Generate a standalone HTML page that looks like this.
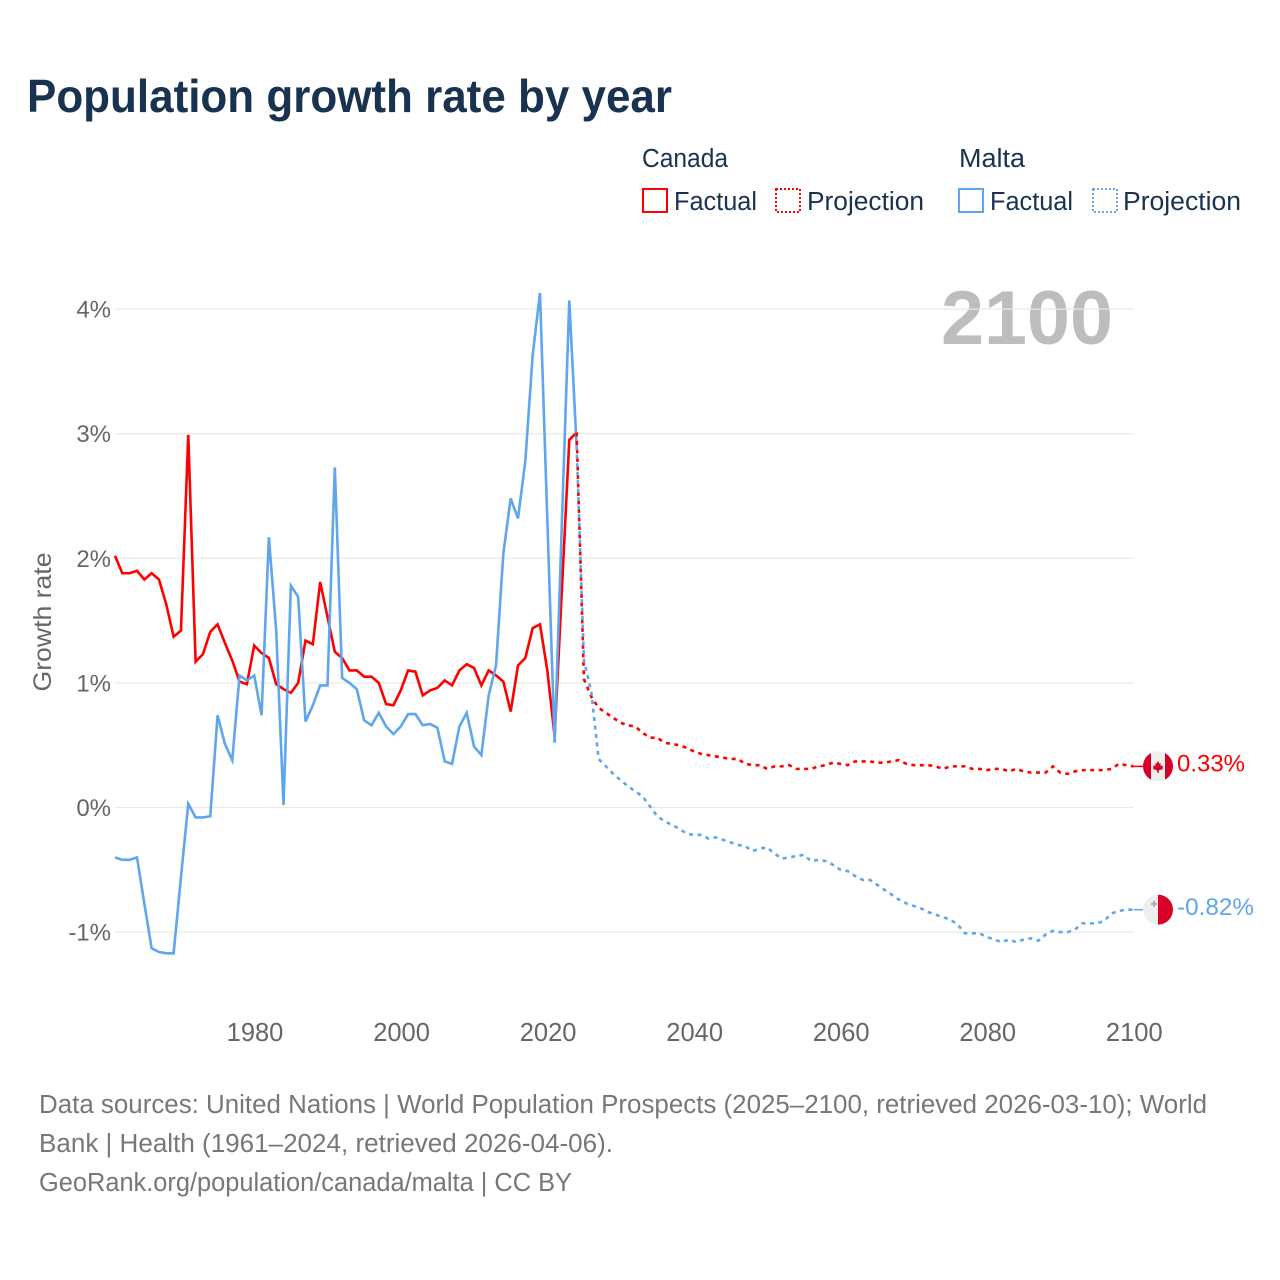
<!DOCTYPE html>
<html lang="en">
<head>
<meta charset="utf-8">
<title>Population growth rate by year</title>
<style>
html,body{margin:0;padding:0;background:#fff;width:1280px;height:1280px;overflow:hidden}
svg{display:block}
text{font-family:"Liberation Sans",sans-serif}
</style>
</head>
<body>
<svg id="chart" xmlns="http://www.w3.org/2000/svg" width="1280" height="1280" viewBox="0 0 1280 1280">
  <rect width="1280" height="1280" fill="#fff"/>
  <text x="27" y="112" font-size="46" font-weight="700" fill="#18324f" textLength="645" lengthAdjust="spacingAndGlyphs">Population growth rate by year</text>

  <g font-size="25.5" fill="#18324f">
    <text x="642" y="167" textLength="86" lengthAdjust="spacingAndGlyphs">Canada</text>
    <text x="959" y="167" textLength="66" lengthAdjust="spacingAndGlyphs">Malta</text>
    <rect x="643" y="189" width="24" height="23" fill="none" stroke="#ff0000" stroke-width="2"/>
    <text x="674" y="210" textLength="83" lengthAdjust="spacingAndGlyphs">Factual</text>
    <rect x="776" y="189" width="24" height="23" fill="none" stroke="#ff0000" stroke-width="2" stroke-dasharray="2 2"/>
    <text x="807" y="210" textLength="117" lengthAdjust="spacingAndGlyphs">Projection</text>
    <rect x="959" y="189" width="24" height="23" fill="none" stroke="#5fa6ec" stroke-width="2"/>
    <text x="990" y="210" textLength="83" lengthAdjust="spacingAndGlyphs">Factual</text>
    <rect x="1093" y="189" width="24" height="23" fill="none" stroke="#5fa6ec" stroke-width="2" stroke-dasharray="2 2"/>
    <text x="1123" y="210" textLength="118" lengthAdjust="spacingAndGlyphs">Projection</text>
  </g>

  <text x="1113" y="344" font-size="76" font-weight="700" fill="#bdbdbd" text-anchor="end" textLength="172" lengthAdjust="spacingAndGlyphs">2100</text>

  <g id="grid"></g>
  <g id="yticks"></g>
  <g id="xticks"></g>
  <text transform="translate(51,622) rotate(-90)" font-size="25" fill="#666" text-anchor="middle" textLength="139" lengthAdjust="spacingAndGlyphs">Growth rate</text>
  <g id="series"></g>

  <g id="flag-canada"></g>
  <g id="flag-malta"></g>

  <g font-size="25.5" fill="#777">
    <text x="39" y="1113" textLength="1168" lengthAdjust="spacingAndGlyphs">Data sources: United Nations | World Population Prospects (2025–2100, retrieved 2026-03-10); World</text>
    <text x="39" y="1152" textLength="574" lengthAdjust="spacingAndGlyphs">Bank | Health (1961–2024, retrieved 2026-04-06).</text>
    <text x="39" y="1191" textLength="533" lengthAdjust="spacingAndGlyphs">GeoRank.org/population/canada/malta | CC BY</text>
  </g>
</svg>
<script>
const yTickValues = [4, 3, 2, 1, 0, -1];
const xTickYears = [1980, 2000, 2020, 2040, 2060, 2080, 2100];
const factualStartYear = 1961;
const projectionStartYear = 2024;
const canadaFactual = [2.02,1.88,1.88,1.90,1.83,1.88,1.83,1.63,1.37,1.42,2.99,1.17,1.23,1.41,1.47,1.32,1.18,1.01,0.99,1.30,1.24,1.20,0.99,0.95,0.92,1.00,1.34,1.31,1.81,1.53,1.25,1.20,1.10,1.10,1.05,1.05,1.00,0.83,0.82,0.94,1.10,1.09,0.90,0.94,0.96,1.02,0.98,1.10,1.15,1.12,0.98,1.10,1.06,1.01,0.77,1.14,1.20,1.44,1.47,1.10,0.57,1.76,2.95,3.01];
const maltaFactual = [-0.40,-0.42,-0.42,-0.40,-0.77,-1.13,-1.16,-1.17,-1.17,-0.56,0.03,-0.08,-0.08,-0.07,0.74,0.51,0.38,1.06,1.02,1.06,0.74,2.17,1.42,0.02,1.78,1.69,0.69,0.82,0.98,0.98,2.73,1.04,1.00,0.95,0.70,0.66,0.76,0.65,0.59,0.65,0.75,0.75,0.66,0.67,0.64,0.37,0.35,0.65,0.76,0.49,0.42,0.90,1.14,2.04,2.48,2.32,2.78,3.63,4.13,2.31,0.52,2.31,4.07,2.90];
const canadaProjection = [3.01,1.03,0.89,0.80,0.76,0.72,0.68,0.66,0.65,0.60,0.56,0.56,0.52,0.51,0.50,0.48,0.45,0.43,0.42,0.41,0.40,0.39,0.39,0.35,0.34,0.34,0.31,0.33,0.33,0.34,0.31,0.31,0.31,0.33,0.34,0.36,0.35,0.34,0.37,0.37,0.37,0.36,0.36,0.37,0.38,0.35,0.34,0.34,0.34,0.33,0.31,0.33,0.33,0.33,0.31,0.31,0.30,0.31,0.31,0.29,0.31,0.29,0.28,0.28,0.28,0.33,0.28,0.27,0.29,0.30,0.30,0.30,0.30,0.31,0.35,0.34,0.33];
const maltaProjection = [2.90,1.18,0.93,0.39,0.33,0.27,0.22,0.17,0.13,0.09,0.01,-0.07,-0.11,-0.14,-0.17,-0.21,-0.22,-0.22,-0.25,-0.24,-0.26,-0.28,-0.30,-0.31,-0.35,-0.33,-0.32,-0.37,-0.41,-0.40,-0.39,-0.38,-0.43,-0.42,-0.43,-0.46,-0.50,-0.51,-0.55,-0.58,-0.58,-0.62,-0.66,-0.70,-0.74,-0.77,-0.79,-0.81,-0.84,-0.86,-0.88,-0.90,-0.94,-1.01,-1.01,-1.01,-1.04,-1.06,-1.08,-1.06,-1.08,-1.06,-1.05,-1.07,-1.02,-0.99,-1.00,-1.00,-0.98,-0.93,-0.93,-0.93,-0.91,-0.85,-0.83,-0.82,-0.82];

const NS = 'http://www.w3.org/2000/svg';
const RED = '#ff0000';
const BLUE = '#5fa6ec';
const FLAG_RED = '#d80027';
const FLAG_WHITE = '#eeeeee';

function xScale(year) { return 115 + (year - 1961) * (1018.5 / 139); }
function yScale(value) { return 807.5 - value * 124.6; }

function make(tag, attrs, parent) {
  const el = document.createElementNS(NS, tag);
  for (const k in attrs) el.setAttribute(k, attrs[k]);
  parent.appendChild(el);
  return el;
}

const grid = document.getElementById('grid');
const yticks = document.getElementById('yticks');
const xticks = document.getElementById('xticks');
const series = document.getElementById('series');

yTickValues.forEach(function (v) {
  const line = make('line', { x1: 115, x2: 1133.5, y1: yScale(v), y2: yScale(v), stroke: '#e8e8e8', 'stroke-width': 1.2 }, grid);
  
  
  const label = make('text', { x: 111, y: yScale(v) + 8.5, 'font-size': 24, fill: '#666', 'text-anchor': 'end' }, yticks);
  
  
  label.textContent = v + '%';
});

xTickYears.forEach(function (yr) {
  const label = make('text', { x: xScale(yr) + 0.8, y: 1041, 'font-size': 25.5, fill: '#666', 'text-anchor': 'middle' }, xticks);
  
  
  label.textContent = yr;
});

function linePath(values, startYear) {
  return values.map(function (v, i) {
    return (i ? 'L' : 'M') + xScale(startYear + i).toFixed(2) + ' ' + yScale(v).toFixed(2);
  }).join(' ');
}

function drawLine(values, startYear, color, dashed) {
  const attrs = { d: linePath(values, startYear), fill: 'none', stroke: color, 'stroke-width': 2.6, 'stroke-linejoin': 'miter' };
  if (dashed) attrs['stroke-dasharray'] = '4 4.5';
  return make('path', attrs, series);
}

const canadaFactualLine = drawLine(canadaFactual, factualStartYear, RED, false);


const maltaFactualLine = drawLine(maltaFactual, factualStartYear, BLUE, false);


const canadaProjectionLine = drawLine(canadaProjection, projectionStartYear, RED, true);


const maltaProjectionLine = drawLine(maltaProjection, projectionStartYear, BLUE, true);



const canadaLast = canadaProjection[canadaProjection.length - 1];
const maltaLast = maltaProjection[maltaProjection.length - 1];
const flagX = 1158;

function flagBase(group, v, id) {
  const cy = yScale(v);
  const defs = make('defs', {}, group);
  const clip = make('clipPath', { id: id }, defs);
  make('circle', { cx: flagX, cy: cy, r: 15 }, clip);
  const inner = make('g', { 'clip-path': 'url(#' + id + ')' }, group);
  return { inner: inner, cy: cy };
}

const canadaTail = make('line', { x1: xScale(2100), x2: flagX - 15, y1: yScale(canadaLast), y2: yScale(canadaLast), stroke: RED, 'stroke-width': 1.5 }, series);


const maltaTail = make('line', { x1: xScale(2100), x2: flagX - 15, y1: yScale(maltaLast), y2: yScale(maltaLast), stroke: BLUE, 'stroke-width': 1.5 }, series);



const ca = flagBase(document.getElementById('flag-canada'), canadaLast, 'clip-ca');
make('rect', { x: flagX - 15, y: ca.cy - 15, width: 30, height: 30, fill: FLAG_WHITE }, ca.inner);
make('rect', { x: flagX - 15, y: ca.cy - 15, width: 8, height: 30, fill: FLAG_RED }, ca.inner);
make('rect', { x: flagX + 7, y: ca.cy - 15, width: 8, height: 30, fill: FLAG_RED }, ca.inner);
make('polygon', {
  fill: FLAG_RED,
  transform: 'translate(' + flagX + ' ' + (ca.cy + 0.5) + ')',
  points: '0,-6 1.6,-3 3,-3.6 2.4,-0.6 4,-1.6 5,0 4.4,1.4 5,2.2 1,3.4 0.6,6 -0.6,6 -1,3.4 -5,2.2 -4.4,1.4 -5,0 -4,-1.6 -2.4,-0.6 -3,-3.6 -1.6,-3'
}, ca.inner);

const mt = flagBase(document.getElementById('flag-malta'), maltaLast, 'clip-mt');
make('rect', { x: flagX - 15, y: mt.cy - 15, width: 15, height: 30, fill: FLAG_WHITE }, mt.inner);
make('rect', { x: flagX, y: mt.cy - 15, width: 15, height: 30, fill: FLAG_RED }, mt.inner);
make('path', { d: 'M' + (flagX - 6) + ' ' + (mt.cy - 10) + 'h2v-2h2v2h2v2h-2v2h-2v-2h-2z', fill: '#acacac', transform: 'translate(-1 3.2) scale(1)' }, mt.inner);

const canadaValueLabel = make('text', { x: 1177, y: yScale(canadaLast) + 5.2, 'font-size': 24.5, fill: RED, textLength: 68, lengthAdjust: 'spacingAndGlyphs' }, series);


canadaValueLabel.textContent = canadaLast.toFixed(2) + '%';
const maltaValueLabel = make('text', { x: 1177, y: yScale(maltaLast) + 5.2, 'font-size': 24.5, fill: BLUE, textLength: 77, lengthAdjust: 'spacingAndGlyphs' }, series);


maltaValueLabel.textContent = maltaLast.toFixed(2) + '%';
</script>
</body>
</html>
